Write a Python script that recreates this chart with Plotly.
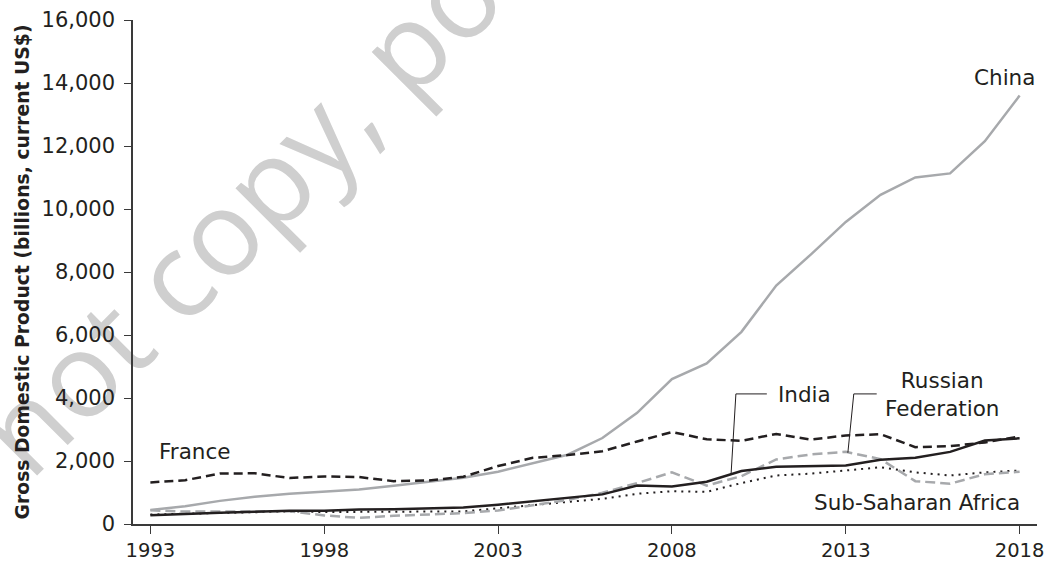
import plotly.graph_objects as go

years = list(range(1993, 2019))

china = [445, 564, 734, 864, 962, 1029, 1094, 1211, 1339, 1471, 1660, 1920, 2200, 2730, 3530,
         4600, 5100, 6100, 7570, 8560, 9590, 10450, 11000, 11130, 12150, 13600]
france = [1320, 1390, 1600, 1610, 1460, 1510, 1490, 1360, 1380, 1500, 1840, 2100, 2190, 2310, 2620,
          2920, 2690, 2640, 2860, 2680, 2810, 2850, 2440, 2470, 2590, 2780]
india = [280, 330, 360, 390, 420, 420, 460, 470, 490, 520, 610, 720, 830, 940, 1220,
         1190, 1340, 1680, 1820, 1830, 1860, 2040, 2100, 2290, 2650, 2720]
russia = [435, 395, 395, 392, 405, 271, 196, 260, 307, 345, 430, 591, 764, 990, 1300,
          1640, 1220, 1520, 2050, 2210, 2290, 2060, 1360, 1280, 1580, 1660]
ssa = [300, 320, 360, 380, 400, 380, 380, 390, 380, 400, 500, 610, 700, 800, 960,
       1040, 1020, 1300, 1540, 1600, 1700, 1800, 1640, 1540, 1640, 1700]

x_ticks = [1993, 1998, 2003, 2008, 2013, 2018]
y_ticks = [0, 2000, 4000, 6000, 8000, 10000, 12000, 14000, 16000]

FONT = "DejaVu Sans"
TXT = "#231f20"
LBL = 21.5
TICK = 21

fig = go.Figure()
fig.add_trace(go.Scatter(x=years, y=ssa, mode="lines", name="Sub-Saharan Africa",
                         line=dict(color="#231f20", width=2, dash="2px,5px")))
fig.add_trace(go.Scatter(x=years, y=russia, mode="lines", name="Russian Federation",
                         line=dict(color="#a7a9ac", width=2.5, dash="10px,5px")))
fig.add_trace(go.Scatter(x=years, y=china, mode="lines", name="China",
                         line=dict(color="#a7a9ac", width=2.5)))
fig.add_trace(go.Scatter(x=years, y=france, mode="lines", name="France",
                         line=dict(color="#231f20", width=2.5, dash="9px,5px")))
fig.add_trace(go.Scatter(x=years, y=india, mode="lines", name="India",
                         line=dict(color="#231f20", width=2.5)))

annotations = [
    dict(text="China", x=2018.5, y=14190, xanchor="right", yanchor="middle", showarrow=False),
    dict(text="France", x=1993.2, y=2317, xanchor="left", yanchor="middle", showarrow=False),
    dict(text="India", x=2011.0, y=4127, xanchor="left", yanchor="middle", showarrow=False),
    dict(text="Russian<br>Federation", x=2015.79, y=4111, xanchor="center", yanchor="middle",
         showarrow=False, align="center"),
    dict(text="Sub-Saharan Africa", x=2018.06, y=667, xanchor="right", yanchor="middle", showarrow=False),
]
for a in annotations:
    a["font"] = dict(family=FONT, size=LBL, color=TXT)

# watermark drawn underneath the axes and lines
WM_X, WM_Y = 0.378, 1.069
shapes = [
    dict(type="rect", xref="paper", yref="paper", x0=WM_X, x1=WM_X, y0=WM_Y, y1=WM_Y,
         layer="below", line=dict(width=0), fillcolor="rgba(0,0,0,0)",
         label=dict(text="Do not copy, post, or distribute", textangle=-45,
                    textposition="middle center",
                    font=dict(family="Open Sans", size=118, color="#cfcfcf"))),
    dict(type="line", xref="x", yref="y", x0=2009.70, y0=1560, x1=2009.84, y1=4130,
         line=dict(color=TXT, width=1)),
    dict(type="line", xref="x", yref="y", x0=2009.84, y0=4130, x1=2010.73, y1=4130,
         line=dict(color=TXT, width=1)),
    dict(type="line", xref="x", yref="y", x0=2013.06, y0=2260, x1=2013.23, y1=4130,
         line=dict(color=TXT, width=1)),
    dict(type="line", xref="x", yref="y", x0=2013.23, y0=4130, x1=2013.89, y1=4130,
         line=dict(color=TXT, width=1)),
]

fig.update_layout(
    width=1047, height=562,
    margin=dict(l=133, r=10, t=20, b=38),
    paper_bgcolor="white", plot_bgcolor="rgba(0,0,0,0)",
    showlegend=False,
    font=dict(family=FONT, size=LBL, color=TXT),
    annotations=annotations,
    shapes=shapes,
    xaxis=dict(range=[1992.5, 2018.5], tickvals=x_ticks, ticktext=[str(v) for v in x_ticks],
               automargin=False,
               showgrid=False, zeroline=False, showline=True, linecolor="#3a3a3a", linewidth=1.5,
               ticks="outside", ticklen=8, tickcolor="#3a3a3a", tickwidth=1.2,
               tickfont=dict(family=FONT, size=19.5, color=TXT)),
    yaxis=dict(range=[0, 16000], tickvals=y_ticks, tickformat=",",
               automargin=False,
               showgrid=False, zeroline=False, showline=True, linecolor="#3a3a3a", linewidth=1.5,
               ticks="outside", ticklen=7, tickcolor="#3a3a3a", tickwidth=1.2,
               ticklabelstandoff=5,
               tickfont=dict(family=FONT, size=TICK, color=TXT),
               title=dict(text="<b>Gross Domestic Product (billions, current US$)</b>",
                          font=dict(family=FONT, size=18.8, color=TXT), standoff=7)),
)

# remove the browser's default 8px body margin so the 1047x562 figure fills the window exactly
fig.write_html("out.html", config={"displayModeBar": False},
               post_script="document.body.style.margin='0';document.body.style.overflow='hidden';")
